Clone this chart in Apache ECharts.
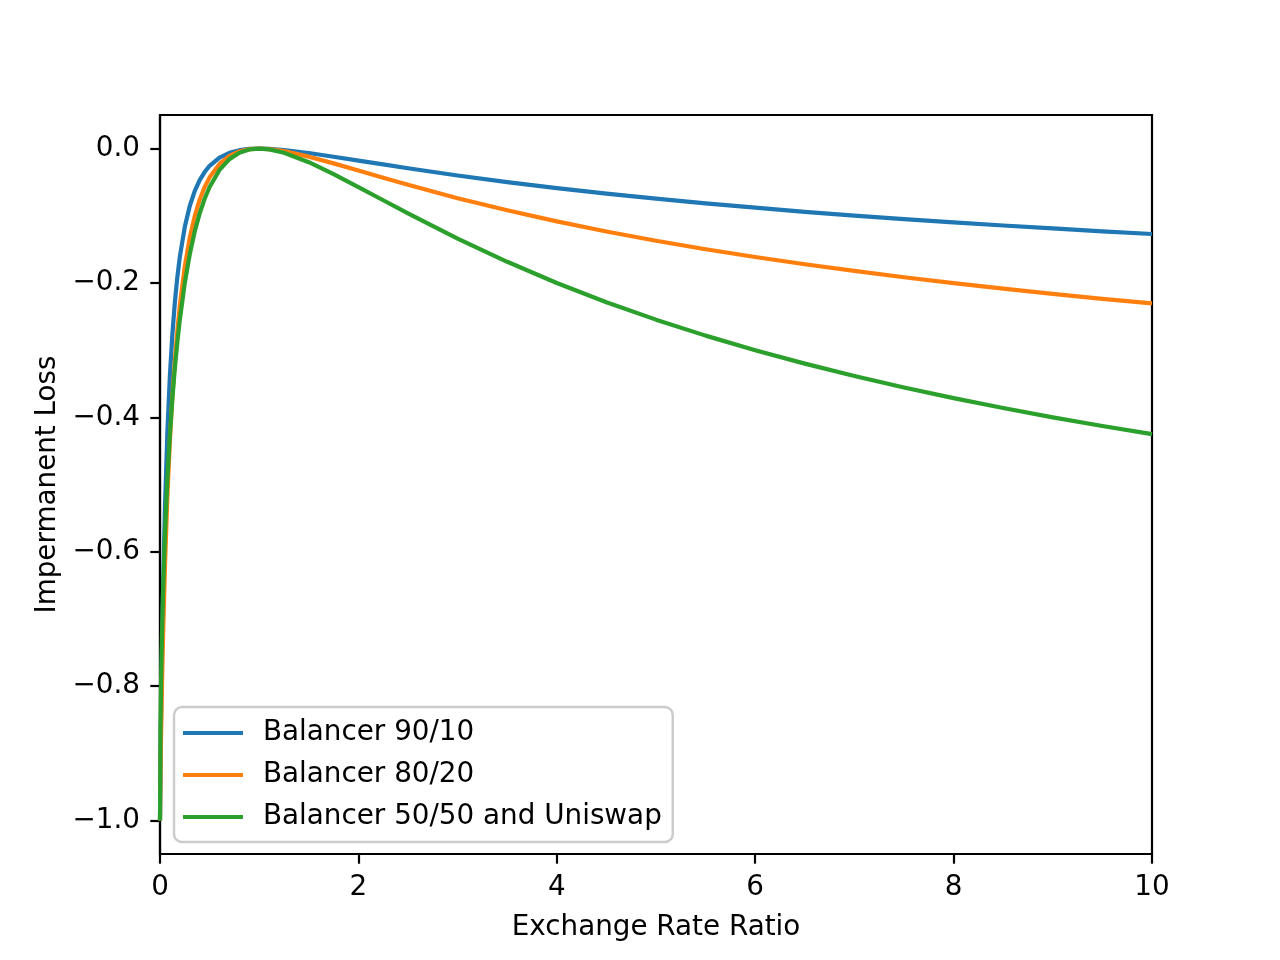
<!DOCTYPE html>
<html>
<head>
<meta charset="utf-8">
<script src="https://cdn.jsdelivr.net/npm/echarts@6/dist/echarts.min.js"></script>
<style>
  html, body { margin: 0; padding: 0; background: #fff; }
  #chart { width: 1280px; height: 960px; }
</style>
</head>
<body>
<div id="chart"></div>
<script>
// Exchange rate ratio (x) sample points
const xValues = [0, 0.005, 0.01, 0.02, 0.03, 0.05, 0.075, 0.1, 0.125, 0.15, 0.175, 0.2,
  0.25, 0.3, 0.35, 0.4, 0.45, 0.5, 0.6, 0.7, 0.8, 0.9, 1,
  1.1, 1.25, 1.5, 1.75, 2, 2.25, 2.5, 3, 3.5, 4, 4.5, 5,
  5.5, 6, 6.5, 7, 7.5, 8, 8.5, 9, 9.5, 10];

const balancer9010 = [-1, -0.9187, -0.8546, -0.7494, -0.6646, -0.5347, -0.4198, -0.3374, -0.2758, -0.2283, -0.1910, -0.1610,
  -0.1164, -0.0855, -0.0633, -0.0470, -0.0349, -0.0256, -0.0134, -0.0063, -0.0024, -0.0005, 0,
  -0.0004, -0.0021, -0.0066, -0.0121, -0.0179, -0.0236, -0.0293, -0.0400, -0.0499, -0.0589, -0.0671, -0.0746,
  -0.0815, -0.0880, -0.0941, -0.0997, -0.1049, -0.1099, -0.1145, -0.1189, -0.1231, -0.1271];

const balancer8020 = [-1, -0.9293, -0.8792, -0.7975, -0.7300, -0.6207, -0.5157, -0.4340, -0.3685, -0.3149, -0.2706, -0.2335,
  -0.1753, -0.1325, -0.1005, -0.0761, -0.0573, -0.0428, -0.0228, -0.0108, -0.0041, -0.0009, 0,
  -0.0007, -0.0038, -0.0120, -0.0220, -0.0327, -0.0434, -0.0539, -0.0738, -0.0919, -0.1084, -0.1234, -0.1372,
  -0.1498, -0.1614, -0.1721, -0.1821, -0.1915, -0.2003, -0.2085, -0.2163, -0.2236, -0.2305];

const balancer5050 = [-1, -0.8593, -0.8020, -0.7227, -0.6637, -0.5741, -0.4905, -0.4250, -0.3715, -0.3264, -0.2880, -0.2546,
  -0.2000, -0.1573, -0.1235, -0.0965, -0.0747, -0.0572, -0.0318, -0.0157, -0.0062, -0.0014, 0,
  -0.0011, -0.0062, -0.0202, -0.0379, -0.0572, -0.0769, -0.0965, -0.1340, -0.1685, -0.2000, -0.2286, -0.2546,
  -0.2784, -0.3001, -0.3201, -0.3386, -0.3556, -0.3715, -0.3862, -0.4000, -0.4129, -0.4250];

const seriesNames = ['Balancer 90/10', 'Balancer 80/20', 'Balancer 50/50 and Uniswap'];
const seriesColors = ['#1f77b4', '#ff7f0e', '#2ca02c'];
const yTickValues = [-1.0, -0.8, -0.6, -0.4, -0.2, 0.0];
const xTickValues = [0, 2, 4, 6, 8, 10];

const FONT = 'DejaVu Sans';
const FS = 27.8;

function pairs(ys) { return xValues.map((x, i) => [x, ys[i]]); }
const allY = [balancer9010, balancer8020, balancer5050];

const chart = echarts.init(document.getElementById('chart'), null, { renderer: 'canvas' });
chart.setOption({
  animation: false,
  backgroundColor: '#ffffff',
  grid: {
    left: 160, right: 128, top: 115, bottom: 106,
    show: true, borderColor: '#000', borderWidth: 2.2, backgroundColor: 'transparent'
  },
  legend: {
    orient: 'vertical',
    left: 174, top: 707,
    data: seriesNames,
    icon: 'rect',
    itemWidth: 60, itemHeight: 4,
    itemGap: 10,
    padding: [10, 11, 9, 9],
    backgroundColor: 'rgba(255,255,255,0.8)',
    borderColor: '#cccccc',
    borderWidth: 2.5,
    borderRadius: 8,
    textStyle: { fontFamily: FONT, fontSize: FS, color: '#000', lineHeight: 32, padding: [0, 0, 0, 15] }
  },
  xAxis: {
    type: 'value', min: 0, max: 10, interval: 2,
    name: 'Exchange Rate Ratio', nameLocation: 'middle', nameGap: 60,
    nameTextStyle: { fontFamily: FONT, fontSize: FS, color: '#000' },
    axisLine: { show: true, onZero: false, lineStyle: { color: '#000', width: 2.2 } },
    axisTick: { show: true, inside: false, length: 9.7, lineStyle: { color: '#000', width: 2.2 } },
    axisLabel: { fontFamily: FONT, fontSize: FS, color: '#000', margin: 20,
      formatter: v => String(v) },
    splitLine: { show: false }
  },
  yAxis: {
    type: 'value', min: -1.05, max: 0.05,
    name: 'Impermanent Loss', nameLocation: 'middle', nameGap: 98,
    nameTextStyle: { fontFamily: FONT, fontSize: FS, color: '#000' },
    axisLine: { show: true, onZero: false, lineStyle: { color: '#000', width: 2.2 } },
    axisTick: { show: true, inside: false, length: 9.7, customValues: yTickValues, lineStyle: { color: '#000', width: 2.2 } },
    axisLabel: { fontFamily: FONT, fontSize: FS, color: '#000', margin: 20, customValues: yTickValues,
      formatter: v => (v < -1e-9 ? '\u2212' : '') + Math.abs(v).toFixed(1) },
    splitLine: { show: false }
  },
  series: seriesNames.map((name, i) => ({
    name: name,
    type: 'line',
    data: pairs(allY[i]),
    showSymbol: false,
    symbol: 'none',
    smooth: false,
    clip: true,
    z: 2 + i,
    color: seriesColors[i],
    lineStyle: { color: seriesColors[i], width: 4.2, join: 'round', cap: 'butt' }
  }))
});
</script>
</body>
</html>
